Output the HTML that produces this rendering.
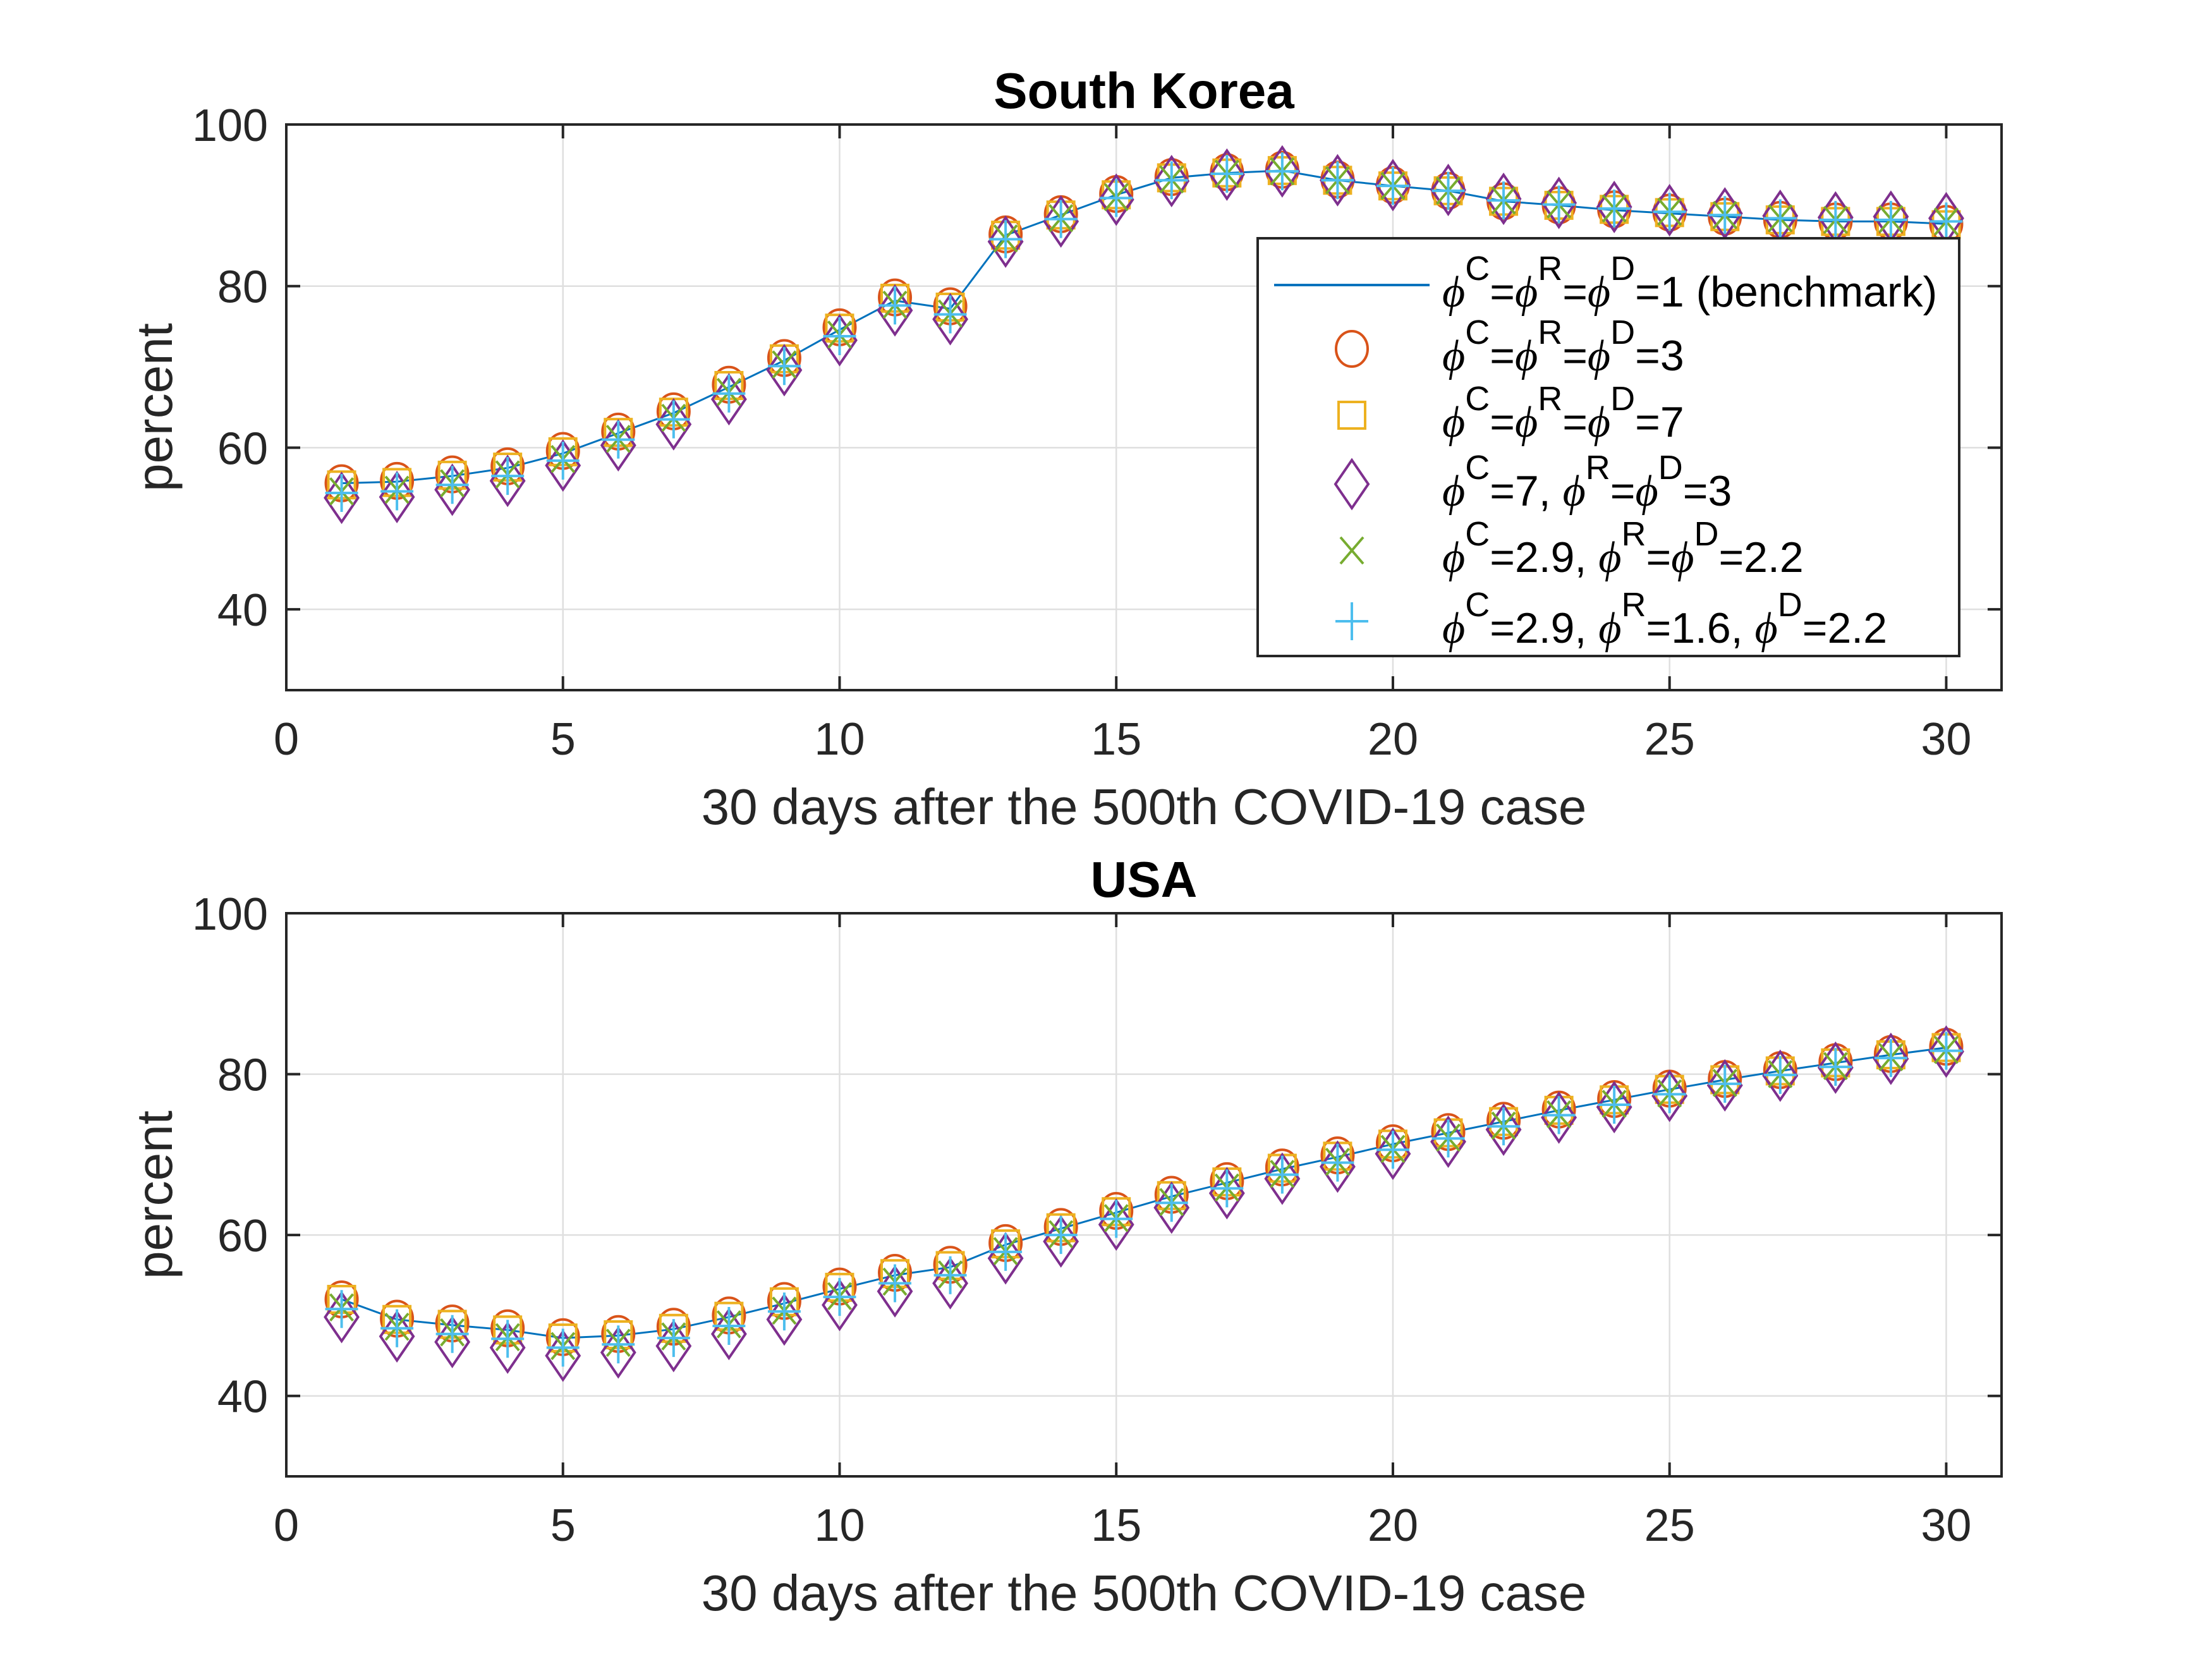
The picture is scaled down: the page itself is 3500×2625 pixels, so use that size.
<!DOCTYPE html>
<html><head><meta charset="utf-8"><style>
html,body{margin:0;padding:0;background:#fff}
svg{display:block;font-family:"Liberation Sans",Arial,sans-serif}
</style></head><body>
<svg id="fig" width="3500" height="2625" viewBox="0 0 3500 2625" xmlns="http://www.w3.org/2000/svg"></svg>
<script>
const days = Array.from({length:30},(_,i)=>i+1);
const xTicks = [0,5,10,15,20,25,30];
const yTicks = [40,60,80,100];
// South Korea
const skBench = [55.6,55.8,56.5,57.5,59.3,61.8,64.3,67.5,70.8,74.6,78.2,77.2,86.3,88.8,91.3,93.4,94.0,94.3,93.1,92.4,91.8,90.5,90.0,89.4,89.0,88.6,88.2,88.0,88.0,87.7];
const skPhi3 = [55.6,55.9,56.7,57.7,59.6,62.0,64.5,67.8,71.1,74.9,78.6,77.5,86.4,88.9,91.4,93.5,94.1,94.4,93.2,92.5,91.8,90.5,90.0,89.5,89.1,88.6,88.2,88.0,88.0,87.7];
const skPhi7 = [55.4,55.7,56.6,57.6,59.5,61.9,64.4,67.7,71.0,74.8,78.5,77.4,86.3,88.8,91.3,93.4,94.0,94.3,93.1,92.4,91.8,90.5,90.0,89.5,89.1,88.6,88.2,88.0,88.0,87.6];
const skDiam = [53.8,53.9,54.8,55.9,57.8,60.3,62.9,66.0,69.6,73.3,77.0,75.9,85.5,88.0,90.7,93.0,93.8,94.2,93.1,92.5,91.9,90.8,90.3,89.8,89.4,89.0,88.7,88.5,88.6,88.4];
const skX = [54.6,54.8,55.6,56.7,58.6,61.1,63.7,66.9,70.3,74.0,77.7,76.6,85.9,88.4,91.0,93.2,93.9,94.2,93.1,92.4,91.8,90.6,90.1,89.6,89.2,88.8,88.4,88.2,88.3,88.0];
const skPlus = [54.4,54.6,55.4,56.5,58.4,61.0,63.5,66.7,70.1,73.8,77.6,76.5,85.8,88.3,90.9,93.1,93.9,94.2,93.1,92.4,91.8,90.6,90.1,89.6,89.2,88.8,88.4,88.2,88.2,88.0];
// USA
const usBench = [52.0,49.5,48.8,48.2,47.2,47.5,48.3,49.8,51.5,53.3,55.0,56.0,58.8,60.8,62.8,64.8,66.5,68.2,69.7,71.3,72.7,74.1,75.5,76.8,78.1,79.3,80.4,81.4,82.4,83.3];
const usPhi3 = [52.0,49.6,49.0,48.4,47.3,47.7,48.6,50.0,51.8,53.6,55.3,56.3,59.0,61.0,63.0,65.0,66.7,68.4,69.9,71.4,72.8,74.2,75.6,76.9,78.2,79.4,80.5,81.5,82.5,83.4];
const usPhi7 = [52.0,49.5,48.9,48.2,47.2,47.6,48.4,49.9,51.7,53.5,55.2,56.2,58.9,60.9,62.9,64.9,66.6,68.3,69.8,71.3,72.7,74.1,75.5,76.8,78.1,79.3,80.4,81.4,82.4,83.3];
const usDiam = [49.8,47.4,46.7,46.0,45.0,45.4,46.2,47.7,49.5,51.3,53.0,54.0,57.1,59.2,61.3,63.4,65.2,67.0,68.5,70.1,71.6,73.1,74.6,75.9,77.3,78.6,79.8,80.8,81.9,82.8];
const usX = [51.0,48.6,47.9,47.3,46.2,46.6,47.4,48.9,50.6,52.4,54.2,55.1,58.0,60.1,62.1,64.1,65.9,67.6,69.1,70.7,72.1,73.6,75.0,76.3,77.6,78.9,80.0,81.0,82.1,83.0];
const usPlus = [50.8,48.4,47.7,47.1,46.0,46.4,47.2,48.7,50.5,52.3,54.0,55.0,57.9,60.0,62.0,64.0,65.8,67.5,69.0,70.6,72.0,73.5,74.9,76.2,77.5,78.8,79.9,80.9,82.0,82.9];

const NS="http://www.w3.org/2000/svg";
const svg=document.getElementById('fig');
function mk(tag,attrs,parent){const e=document.createElementNS(NS,tag);for(const k in attrs)e.setAttribute(k,attrs[k]);(parent||svg).appendChild(e);return e;}
const C={blue:'#0072BD',orange:'#D95319',yellow:'#EDB120',purple:'#7E2F8E',green:'#77AC30',cyan:'#4DBEEE',ax:'#262626',grid:'#dfdfdf'};

function marker(type,cx,cy,g,color){
  let e;
  if(type==='circle') e=mk('ellipse',{cx:cx,cy:cy,rx:25,ry:28,fill:'none',stroke:color,'stroke-width':4},g);
  else if(type==='square') e=mk('rect',{x:cx-21,y:cy-21,width:42,height:42,fill:'none',stroke:color,'stroke-width':4},g);
  else if(type==='diamond') e=mk('polygon',{points:`${cx},${cy-38} ${cx+26},${cy} ${cx},${cy+38} ${cx-26},${cy}`,fill:'none',stroke:color,'stroke-width':4},g);
  else if(type==='x') e=mk('path',{d:`M${cx-18},${cy-21}L${cx+18},${cy+21}M${cx+18},${cy-21}L${cx-18},${cy+21}`,fill:'none',stroke:color,'stroke-width':4},g);
  else e=mk('path',{d:`M${cx-26},${cy}L${cx+26},${cy}M${cx},${cy-30}L${cx},${cy+30}`,fill:'none',stroke:color,'stroke-width':4},g);
  return e;
}

function panel(name,title,top,bottom,series){
  const L=453,R=3167;
  const xs=v=>L+(v/31)*(R-L);
  const ys=v=>bottom-(v-30)/70*(bottom-top);
  const g=mk('g',{});
  
  
  xTicks.forEach(t=>{ if(t>0){const l=mk('line',{x1:xs(t),x2:xs(t),y1:top,y2:bottom,stroke:C.grid,'stroke-width':2.5},g);
    }});
  yTicks.forEach(t=>{ if(t<100){const l=mk('line',{x1:L,x2:R,y1:ys(t),y2:ys(t),stroke:C.grid,'stroke-width':2.5},g);
    }});
  const d=days.map((x,i)=>(i?'L':'M')+xs(x)+','+ys(series.bench[i])).join('');
  const ln=mk('path',{d:d,fill:'none',stroke:C.blue,'stroke-width':3},g);
  
  
  const sets=[['circle',series.phi3,C.orange],['square',series.phi7,C.yellow],['diamond',series.diam,C.purple],['x',series.xs,C.green],['plus',series.plus,C.cyan]];
  sets.forEach(([t,arr,col])=>{
    const sg=mk('g',{},g);
    
    
    days.forEach((x,i)=>{const m=marker(t,xs(x),ys(arr[i]),sg,col);
      
      });
  });
  const box=mk('rect',{x:L,y:top,width:R-L,height:bottom-top,fill:'none',stroke:C.ax,'stroke-width':4},g);
  
  
  xTicks.forEach(t=>{
    mk('path',{d:`M${xs(t)},${bottom}v-22M${xs(t)},${top}v22`,stroke:C.ax,'stroke-width':4},g);
    const tx=mk('text',{x:xs(t),y:bottom+102,'font-size':72,'text-anchor':'middle',fill:C.ax},g);
    tx.textContent=t;
    
    
  });
  yTicks.forEach(t=>{
    mk('path',{d:`M${L},${ys(t)}h22M${R},${ys(t)}h-22`,stroke:C.ax,'stroke-width':4},g);
    const tx=mk('text',{x:L-29,y:ys(t)+26,'font-size':72,'text-anchor':'end',fill:C.ax},g);
    tx.textContent=t;
    
    
  });
  const ti=mk('text',{x:(L+R)/2,y:top-26,'font-size':80,'font-weight':'bold','text-anchor':'middle',fill:'#000'},g);
  ti.textContent=title;
  
  
  const xl=mk('text',{x:(L+R)/2,y:bottom+212,'font-size':80,'text-anchor':'middle',fill:C.ax},g);
  xl.textContent='30 days after the 500th COVID-19 case';
  
  
  const yc=(top+bottom)/2;
  const yl=mk('text',{x:0,y:0,'font-size':80,'text-anchor':'middle',fill:C.ax,transform:`translate(272,${yc}) rotate(-90)`},g);
  yl.textContent='percent';
  
  
}
panel('south-korea','South Korea',197,1092,{bench:skBench,phi3:skPhi3,phi7:skPhi7,diam:skDiam,xs:skX,plus:skPlus});
panel('usa','USA',1445,2336,{bench:usBench,phi3:usPhi3,phi7:usPhi7,diam:usDiam,xs:usX,plus:usPlus});

const lg=mk('g',{});


mk('rect',{x:1990,y:377,width:1110,height:661,fill:'#fff',stroke:C.ax,'stroke-width':4},lg);
const rows=[
 ['line',C.blue,[['C','='],['R','='],['D','=1 (benchmark)']]],
 ['circle',C.orange,[['C','='],['R','='],['D','=3']]],
 ['square',C.yellow,[['C','='],['R','='],['D','=7']]],
 ['diamond',C.purple,[['C','=7, '],['R','='],['D','=3']]],
 ['x',C.green,[['C','=2.9, '],['R','='],['D','=2.2']]],
 ['plus',C.cyan,[['C','=2.9, '],['R','=1.6, '],['D','=2.2']]]
];
const rowY=[451,552,657,766,871,983];
rows.forEach((r,i)=>{
  const y=rowY[i];
  const eg=mk('g',{},lg);
  
  
  if(r[0]==='line') mk('line',{x1:2016,x2:2262,y1:y,y2:y,stroke:r[1],'stroke-width':4},eg);
  else marker(r[0],2139,y,eg,r[1]);
  const t=mk('text',{x:2282,y:y+34,'font-size':68,fill:'#000'},eg);
  r[2].forEach(([sup,rest])=>{
    const p=mk('tspan',{'font-style':'italic','font-family':'"Liberation Serif",serif','font-size':70},t);p.textContent='ϕ';
    const s=mk('tspan',{dy:-42,'font-size':54},t);s.textContent=sup;
    const q=mk('tspan',{dy:42},t);q.textContent=rest;
  });
});
</script>
</body></html>
